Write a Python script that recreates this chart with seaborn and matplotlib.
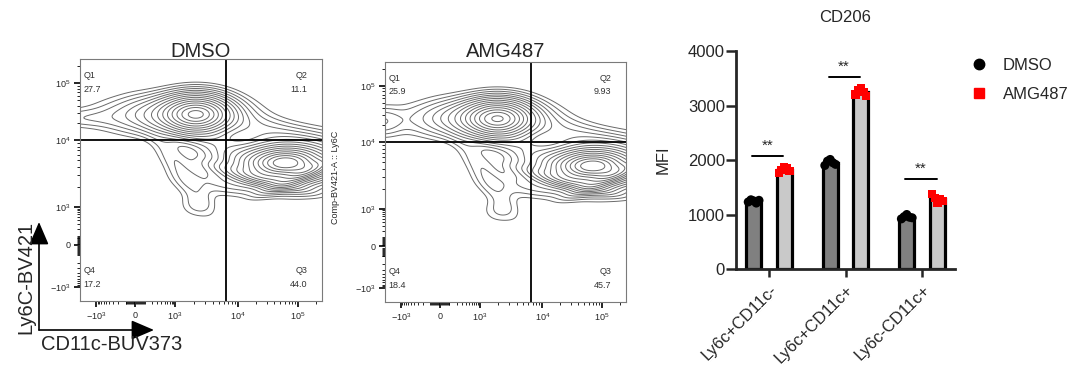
import numpy as np
import pandas as pd
import seaborn as sns
import matplotlib.pyplot as plt
from matplotlib.lines import Line2D

sns.set_style('white')
plt.rcParams['font.family'] = ['Liberation Sans', 'DejaVu Sans']
plt.rcParams['mathtext.default'] = 'regular'

# ---- flow panels: density components in channel units (0..242) ----
# columns: cx, cy, sx, sy, weight, rotation(deg)
dmso_cx = [117, 95, 0, 205, 215, 178, 226, 150, 116, 180, 148, 100]
dmso_cy = [187, 186, 183, 138, 141, 124, 129, 150, 96, 172, 118, 132]
dmso_sx = [20, 38, 26, 24, 40, 28, 24, 40, 11, 45, 30, 32]
dmso_sy = [11, 11, 6, 10, 14, 4.5, 4.5, 10, 8, 9, 8, 8]
dmso_w = [1.0, 0.25, 0.04, 1.2, 0.28, 0.2, 0.26, 0.09, 0.03, 0.07, 0.05, 0.05]
dmso_rot = [0, 0, 0, 0, 0, -14, 24, -30, 0, -14, -5, -55]

amg_cx = [114, 95, -4, 208, 218, 182, 229, 150, 114, 182, 150, 100]
amg_cy = [185, 185, 182, 137, 140, 123, 128, 149, 92, 171, 117, 130]
amg_sx = [20, 38, 14, 24, 40, 28, 24, 40, 11, 45, 30, 32]
amg_sy = [11, 11, 9, 10, 14, 4.5, 4.5, 10, 8, 9, 8, 8]
amg_w = [1.0, 0.25, 0.08, 1.25, 0.28, 0.2, 0.26, 0.09, 0.03, 0.07, 0.05, 0.05]
amg_rot = [0, 0, 0, 0, 0, -14, 24, -30, 0, -14, -5, -55]

contour_levels = [0.012, 0.022, 0.036, 0.055, 0.08, 0.11, 0.15, 0.2, 0.26,
                  0.33, 0.41, 0.5, 0.6, 0.7, 0.8, 0.9]

quad_dmso = ['27.7', '11.1', '44.0', '17.2']
quad_amg = ['25.9', '9.93', '45.7', '18.4']

# axis anchors: value -> channel position
anchor_vals = [-1e4, -1e3, 0, 1e3, 1e4, 1e5, 1e6]
x_anchor_pos = [-20, 16, 55, 95, 158, 218, 278]
y_anchor_pos = [-25, 14, 56, 94, 161, 218, 275]
x_gate = 6500
y_gate = 10000

# ---- bar chart data ----
groups = ['Ly6c+CD11c-', 'Ly6c+CD11c+', 'Ly6c-CD11c+']
dmso_mfi = [[1230, 1270, 1250, 1210, 1260],
            [1900, 1980, 2010, 1950, 1920],
            [920, 960, 1000, 950, 940]]
amg_mfi = [[1760, 1820, 1860, 1850, 1800],
           [3200, 3280, 3310, 3250, 3180],
           [1380, 1300, 1220, 1290, 1250]]
sig_height = [2080, 3530, 1650]


def u(v):
    return np.arcsinh(np.asarray(v, dtype=float) / 150) / np.log(10)


def pos(v, anchors):
    return np.interp(u(v), u(anchor_vals), anchors)


def density(cx, cy, sx, sy, w, rot):
    g = np.arange(-30, 273, 1.0)
    X, Y = np.meshgrid(g, g)
    Z = np.zeros_like(X)
    for a, b, c, d, e, r in zip(cx, cy, sx, sy, w, rot):
        t = np.deg2rad(r)
        dx, dy = X - a, Y - b
        xr = dx * np.cos(t) + dy * np.sin(t)
        yr = -dx * np.sin(t) + dy * np.cos(t)
        Z += e * np.exp(-0.5 * (xr ** 2 / c ** 2 + yr ** 2 / d ** 2))
    return X, Y, Z


def flow_panel(ax, comps, title, quads, title_y):
    X, Y, Z = density(*comps)
    ax.contour(X, Y, Z, levels=np.array(contour_levels) * Z.max(),
               colors='#6a6a6a', linewidths=0.7)
    ax.set_xlim(0, 242)
    ax.set_ylim(0, 242)
    ax.axvline(pos(x_gate, x_anchor_pos), color='black', lw=1.3)
    ax.axhline(pos(y_gate, y_anchor_pos), color='black', lw=1.3)

    major = [-1e3, 0, 1e3, 1e4, 1e5]
    labels = [r'$-10^{3}$', '0', r'$10^{3}$', r'$10^{4}$', r'$10^{5}$']
    minor = ([k * 10 for k in range(-9, 10) if k != 0] +
             [k * 100 for k in range(-9, 10) if k != 0] +
             [k * 1e3 for k in range(2, 10)] + [k * 1e4 for k in range(2, 10)] +
             [2e5])
    ax.set_xticks(pos(major, x_anchor_pos))
    ax.set_xticklabels(labels, fontsize=6.5)
    ax.set_yticks(pos(major, y_anchor_pos))
    ax.set_yticklabels(labels, fontsize=6.5)
    ax.set_xticks(pos(minor, x_anchor_pos), minor=True)
    ax.set_yticks(pos(minor, y_anchor_pos), minor=True)
    ax.tick_params(which='major', length=4, width=1.2, color='black', pad=3)
    ax.tick_params(which='minor', length=2, width=0.6, color='black')
    ax.tick_params(axis='both', which='both', direction='out', bottom=True, left=True)
    for s in ax.spines.values():
        s.set_color('#7a7a7a')
        s.set_linewidth(0.8)

    ax.text(0.5, title_y, title, transform=ax.transAxes, ha='center',
            va='baseline', fontsize=14.5)
    kw = dict(transform=ax.transAxes, fontsize=6.5, color='#333333')
    ax.text(0.015, 0.93, 'Q1', ha='left', va='center', **kw)
    ax.text(0.015, 0.875, quads[0], ha='left', va='center', **kw)
    ax.text(0.94, 0.93, 'Q2', ha='right', va='center', **kw)
    ax.text(0.94, 0.875, quads[1], ha='right', va='center', **kw)
    ax.text(0.015, 0.128, 'Q4', ha='left', va='center', **kw)
    ax.text(0.015, 0.07, quads[3], ha='left', va='center', **kw)
    ax.text(0.94, 0.128, 'Q3', ha='right', va='center', **kw)
    ax.text(0.94, 0.07, quads[2], ha='right', va='center', **kw)


fig = plt.figure(figsize=(10.76, 3.68), dpi=100)

ax1 = fig.add_axes([80 / 1076, 67 / 368, 242 / 1076, 242 / 368])
flow_panel(ax1, (dmso_cx, dmso_cy, dmso_sx, dmso_sy, dmso_w, dmso_rot),
           'DMSO', quad_dmso, 1.008)

ax2 = fig.add_axes([385 / 1076, 66 / 368, 241 / 1076, 240 / 368])
flow_panel(ax2, (amg_cx, amg_cy, amg_sx, amg_sy, amg_w, amg_rot),
           'AMG487', quad_amg, 1.021)
ax2.text(-0.207, 0.52, 'Comp-BV421-A :: Ly6C', transform=ax2.transAxes,
         rotation=90, ha='center', va='center', fontsize=6.5)

# axis arrows for the first panel
arrow = dict(arrowstyle='-|>,head_length=0.7,head_width=0.3', mutation_scale=20,
             color='black', lw=1.2, shrinkA=0, shrinkB=0)
fig.add_artist(plt.Annotation('', xy=(39, 146), xytext=(39, 38),
                              xycoords='figure pixels', arrowprops=arrow))
fig.add_artist(plt.Annotation('', xy=(154, 38), xytext=(39, 38),
                              xycoords='figure pixels', arrowprops=arrow))
fig.text(26 / 1076, 1 - 277 / 368, 'Ly6C-BV421', rotation=90, ha='center',
         va='center', fontsize=14.5)
fig.text(112 / 1076, 1 - 345 / 368, 'CD11c-BUV373', ha='center',
         va='center', fontsize=14.5)

# ---- bar chart ----
rows = []
for g, d, a in zip(groups, dmso_mfi, amg_mfi):
    rows += [(g, 'DMSO', v) for v in d]
    rows += [(g, 'AMG487', v) for v in a]
df = pd.DataFrame(rows, columns=['group', 'treatment', 'MFI'])
hue_order = ['DMSO', 'AMG487']
dot_palette = {'DMSO': 'black', 'AMG487': 'red'}

ax3 = fig.add_axes([736 / 1076, 99 / 368, 219 / 1076, 218 / 368])
sns.barplot(data=df, x='group', y='MFI', hue='treatment', hue_order=hue_order,
            order=groups, palette={'DMSO': '#808080', 'AMG487': '#c9c9c9'},
            errorbar=None, edgecolor='black', linewidth=2.3, width=0.8,
            gap=0.52, legend=False, ax=ax3)
for name, mk, sz in [('DMSO', 'o', 6.5), ('AMG487', 's', 6)]:
    n0 = len(ax3.collections)
    sns.stripplot(data=df[df.treatment == name], x='group', y='MFI',
                  hue='treatment', hue_order=hue_order, order=groups,
                  dodge=True, jitter=False, palette=dot_palette, marker=mk,
                  size=sz, linewidth=0, legend=False, ax=ax3)
    # spread each cluster evenly across the bar top
    for coll in ax3.collections[n0:]:
        off = np.array(coll.get_offsets())
        if len(off) == 0:
            continue
        off[:, 0] = off[:, 0] + np.linspace(-0.07, 0.07, len(off))
        coll.set_offsets(off)

for i, h in enumerate(sig_height):
    ax3.plot([i - 0.22, i + 0.19], [h, h], color='black', lw=1.4)
    ax3.text(i - 0.02, h + 60, '**', ha='center', va='bottom', fontsize=11)

ax3.set_xlim(-0.43, 2.43)
ax3.set_ylim(0, 4000)
ax3.set_yticks([0, 1000, 2000, 3000, 4000])
ax3.set_xlabel('')
ax3.set_ylabel('MFI', fontsize=12, labelpad=12)
ax3.tick_params(axis='y', labelsize=12, length=7, width=1.8, pad=1, left=True)
ax3.tick_params(axis='x', labelsize=12, length=6, width=1.8, bottom=True)
plt.setp(ax3.get_xticklabels(), rotation=45, ha='right', rotation_mode='anchor')
sns.despine(ax=ax3)
ax3.spines['left'].set_linewidth(2)
ax3.spines['bottom'].set_linewidth(2)
fig.text(845 / 1076, 1 - 17 / 368, 'CD206', ha='center', va='center', fontsize=12)

handles = [Line2D([], [], marker='o', color='black', ls='', markersize=7.5),
           Line2D([], [], marker='s', color='red', ls='', markersize=6.5)]
fig.legend(handles, hue_order, loc='center left',
           bbox_to_anchor=(961 / 1076, 1 - 80 / 368), frameon=False,
           fontsize=12, handlelength=1.2, handletextpad=0.8, labelspacing=0.85,
           borderpad=0)

fig.savefig('out.png', dpi=100)
